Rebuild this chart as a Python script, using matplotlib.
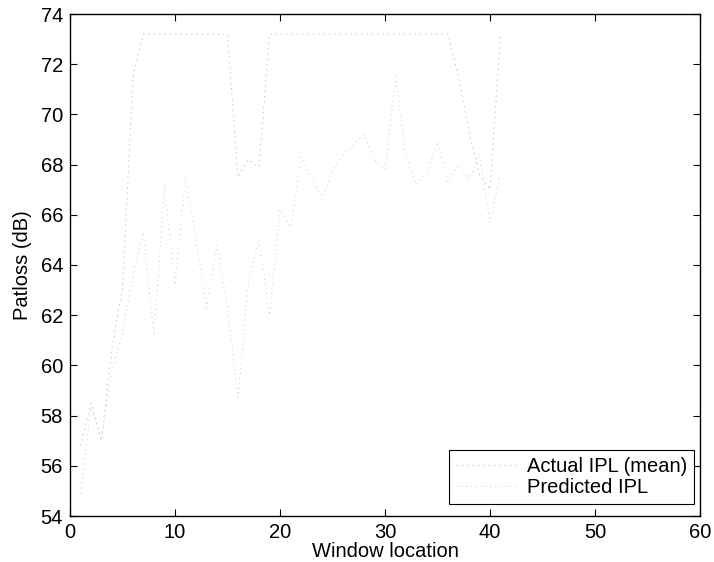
''' window location vs path loss, actual and predicted IPL
'''
import numpy as np
import matplotlib
matplotlib.use('Agg')
import matplotlib.pyplot as plt

window = list(range(1, 42))

actual_ipl = [
    56.8, 58.5, 57.0, 60.7, 63.1, 71.5, 73.2, 73.2, 73.2, 73.2,
    73.2, 73.2, 73.2, 73.2, 73.2, 67.5, 68.2, 67.9, 73.2, 73.2,
    73.2, 73.2, 73.2, 73.2, 73.2, 73.2, 73.2, 73.2, 73.2, 73.2,
    73.2, 73.2, 73.2, 73.2, 73.2, 73.2, 71.5, 69.3, 67.6, 67.0,
    73.2,
]

predicted_ipl = [
    54.9, 58.3, 57.1, 59.8, 61.3, 63.6, 65.3, 61.2, 67.2, 63.2,
    67.5, 65.0, 62.3, 64.8, 62.3, 58.7, 63.4, 65.0, 62.0, 66.2,
    65.5, 68.3, 67.5, 66.6, 67.8, 68.4, 68.8, 69.2, 68.2, 67.8,
    71.5, 68.3, 67.2, 67.7, 68.9, 67.3, 68.0, 67.4, 68.4, 65.7,
    67.6,
]

x_ticks = [0, 10, 20, 30, 40, 50, 60]
y_ticks = [54, 56, 58, 60, 62, 64, 66, 68, 70, 72, 74]

plt.rcParams['font.family'] = ['Liberation Sans', 'DejaVu Sans']
font_size = 14.5


def plot_ipl():
    fig = plt.figure(figsize=(7.14, 5.62), dpi=100)
    ax = fig.add_axes([70 / 714, 1 - 516 / 562, 630 / 714, 502 / 562])

    # scanned original: both traces are very faint broken grey lines
    ax.plot(window, actual_ipl, color='#c4c4c4', lw=0.7,
            dashes=(1.5, 4), label='Actual IPL (mean)')
    ax.plot(window, predicted_ipl, color='#cacaca', lw=0.7,
            dashes=(1, 4), label='Predicted IPL')

    ax.set_xlim(0, 60)
    ax.set_ylim(54, 74)
    ax.set_xticks(x_ticks)
    ax.set_yticks(y_ticks)
    ax.tick_params(direction='in', length=5, width=0.8, top=True, right=True,
                   labelsize=font_size, pad=5, colors='black')
    for spine in ax.spines.values():
        spine.set_linewidth(1.0)
        spine.set_color('black')

    ax.set_xlabel('Window location', fontsize=font_size, labelpad=0)
    ax.set_ylabel('Patloss (dB)', fontsize=font_size, labelpad=6)

    leg = ax.legend(loc='lower right', bbox_to_anchor=(0.9905, 0.024),
                    borderaxespad=0, fontsize=font_size, fancybox=False,
                    framealpha=1, edgecolor='black', handlelength=3,
                    handletextpad=0.5, borderpad=0.35, labelspacing=0.1)
    leg.get_frame().set_linewidth(0.8)

    fig.savefig('out.png', dpi=100)


def main():
    plot_ipl()


if __name__ == '__main__':
    main()
